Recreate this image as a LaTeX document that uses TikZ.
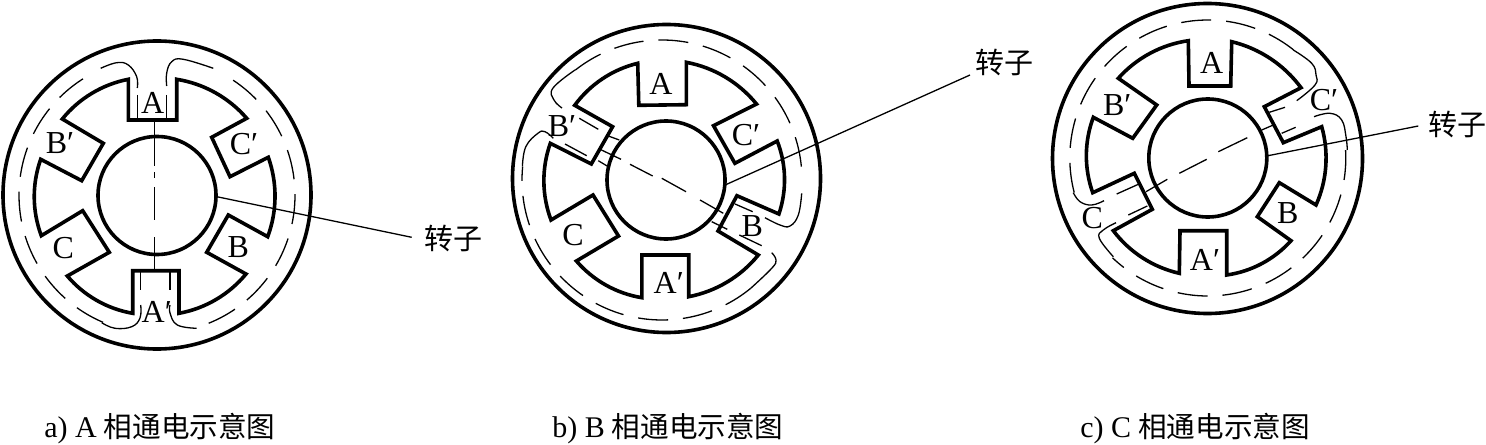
\documentclass[tikz,border=0pt]{standalone}
\usepackage{fontspec}
\setmainfont{Liberation Serif}
\newfontfamily\cjk{Noto Sans CJK SC}
\usetikzlibrary{calc}
\tikzset{
  thick line/.style={line width=1.8pt,line join=miter,miter limit=10},
  thin line/.style={line width=0.65pt},
  ringdash/.style={thin line,dash pattern=on 15pt off 7.5pt},
  leader/.style={line width=0.65pt},
  rotor/.style={circle,draw,line width=1.8pt,minimum size=59pt,inner sep=0pt,outer sep=0pt},
  sarc/.style={bend left=20,looseness=.88},
  pole/.style={font=\fontsize{16}{16}\selectfont,inner sep=0pt},
  caption/.style={font=\fontsize{15}{15}\selectfont,anchor=west,inner sep=0pt},
  rotlabel/.style={font=\cjk\fontsize{14.5}{15}\selectfont,inner sep=0pt}
}
\newcommand{\ringarc}[4]{% centre x, centre y, radius, from:to (clockwise from top)
  \draw[ringdash,domain=#4,samples=80,variable=\t] plot ({#1+#3*sin(\t)},{#2-#3*cos(\t)});}
\newcommand{\cn}[1]{\hspace{3.5pt}{\cjk\fontsize{14.3}{15}\selectfont #1}}
\begin{document}
\begin{tikzpicture}[x=0.5pt,y=-0.5pt]
\useasboundingbox (0,0) rectangle (1486,444);
% ---------------- a
\draw[thick line] (157,195) circle[radius=154];
\node[rotor] (rotA) at (157,195.5) {};
\draw[thick line] (128.3,79.3) -- (128.3,120) -- (176.7,120) -- (176.7,79.3)
  to[sarc] (246.7,118.3) -- (211.7,137.3) -- (230,176.7) -- (268.3,157.3)
  to[sarc] (267.7,236.7) -- (228.3,215) -- (206.7,252.3) -- (246,274)
  to[sarc] (179,313.3) -- (179,270.7) -- (132.7,270.7) -- (132.7,313.3)
  to[sarc] (67.3,276) -- (109.3,252.3) -- (82.7,210.7) -- (41.3,235.7)
  to[sarc] (40.7,159.3) -- (81.7,180.7) -- (103.3,143.3) -- (62.3,119)
  to[sarc] cycle;
\ringarc{157}{195.3}{138}{33.5:158}
\ringarc{157}{195.3}{138}{203:330}
\draw[thin line] plot[smooth,tension=.7] coordinates {(100.7,68.3) (116.7,62.7) (128.3,65) (136.7,76.7) (137.3,88)};
\draw[thin line] (137.3,95) -- (137.3,120);
\draw[thin line] plot[smooth,tension=.7] coordinates {(213.3,68.3) (183.3,59.3) (171.7,61.7) (166.7,73) (166.7,86)};
\draw[thin line] (166.7,95) -- (166.7,120);
\draw[thin line] (140.7,271.7) -- (140.7,290);
\draw[thin line] plot[smooth,tension=.7] coordinates {(140.7,305) (140,318) (131.7,326.7) (115,328.3) (101.7,322.7)};
\draw[thin line] (170,271.7) -- (170,290);
\draw[thin line] plot[smooth,tension=.7] coordinates {(170,305) (170,313) (177.3,325) (196.7,328.3)};
\draw[thin line] (154.3,121) -- (154.3,166);
\draw[thin line] (154.3,172) -- (154.3,178);
\draw[thin line] (154.3,187) -- (154.3,220);
\draw[thin line] (154.3,237) -- (154.3,270);
\node[pole] (aA) at (152.7,102.7) {A};
\node[pole] (aBp) at (60,143.3) {B′};
\node[pole] (aCp) at (244,144) {C′};
\node[pole] (aC) at (63.3,248.3) {C};
\node[pole] (aB) at (238.3,247.3) {B};
\node[pole] (aAp) at (156.7,311.7) {A′};
\node[rotlabel] (txtA) at (453,238) {转子};
\coordinate (endA) at (411.7,237.3);
\draw[leader] (rotA.-1) -- (endA);
\node[caption] (capA) at (44,429) {a) A\cn{相通电示意图}};
% ---------------- b
\draw[thick line] (666.5,178.5) circle[radius=154];
\node[rotor] (rotB) at (666,180) {};
\draw[thick line] (637.7,63.3) -- (638.8,105.3) -- (686.3,104.7) -- (686.3,62.3)
  to[sarc] (756.5,104) -- (713.5,125.7) -- (734.9,163.3) -- (777.2,141)
  to[sarc] (778.9,214) -- (736.9,195.7) -- (718,231) -- (758.3,255)
  to[sarc] (688.7,296.7) -- (688.7,255) -- (641.9,255) -- (641.9,297.7)
  to[sarc] (576.4,261) -- (618.5,236) -- (593,195) -- (551,220)
  to[sarc] (550.3,143.3) -- (591.3,164) -- (612.6,126.7) -- (574.7,105.3)
  to[sarc] cycle;
\ringarc{662}{180}{140}{321.7:445.9}
\ringarc{662}{180}{140}{140.7:275.4}
\draw[thin line] plot[smooth,tension=.7] coordinates {(575,70) (553,88) (554,100) (562,108)};
\draw[thin line] (579.3,118.3) -- (598.3,129.3);
\draw[thin line] (608.3,136) -- (619.3,140);
\draw[thin line] (565,144) -- (586.7,155.7);
\draw[thin line] (598.3,160.7) -- (608.3,166.7);
\draw[thin line] plot[smooth,tension=.7] coordinates {(522.4,166.7) (525.8,146.7) (537.9,133.3) (545,131.7) (553.3,138.3)};
\draw[thin line] (600,149.3) -- (621,159.3);
\draw[thin line] (630,164.3) -- (652.7,176);
\draw[thin line] (661.8,178.3) -- (686,191.7);
\draw[thin line] (700,200) -- (723.3,213.3);
\draw[thin line] (735,204) -- (752.7,211.7);
\draw[thin line] (711.7,221.7) -- (727.3,229.3);
\draw[thin line] (739.3,235) -- (761.7,245.7);
\draw[thin line] plot[smooth,tension=.7] coordinates {(765,217.7) (780,225) (790,226) (798.3,215) (801.7,193.3)};
\draw[thin line] plot[smooth,tension=.7] coordinates {(771.7,252.7) (776,260) (771.7,268.3) (750.7,288.3)};
\node[pole] (bA) at (660.8,84) {A};
\node[pole] (bCp) at (746,135) {C′};
\node[pole] (bBp) at (562,126) {B′};
\node[pole] (bC) at (573,235) {C};
\node[pole] (bB) at (752.4,226) {B};
\node[pole] (bAp) at (668.7,282.7) {A′};
\node[rotlabel] (txtB) at (1004,62) {转子};
\coordinate (endB) at (970,75);
\draw[leader] (rotB.-5) -- (endB);
\node[caption] (capB) at (552,429) {b) B\cn{相通电示意图}};
% ---------------- c
\draw[thick line] (1207.5,158.5) circle[radius=155];
\node[rotor] (rotC) at (1207.8,158) {};
\draw[thick line] (1188.3,40.7) -- (1189,86) -- (1230.7,86) -- (1231.7,41.7)
  to[sarc] (1301,87.7) -- (1264.3,106.7) -- (1283.3,142.7) -- (1321.7,126.7)
  to[sarc] (1316,205) -- (1279.3,182.7) -- (1257.3,216.7) -- (1291,240.7)
  to[sarc] (1226.7,275) -- (1226.7,230.7) -- (1180,230.7) -- (1179.3,273.3)
  to[sarc] (1113.3,230.7) -- (1152.3,209.3) -- (1134.3,173.3) -- (1092.7,192.7)
  to[sarc] (1093.3,117.3) -- (1132.7,138.3) -- (1156.7,105) -- (1118.3,78.3)
  to[sarc] cycle;
\ringarc{1207.8}{158}{138}{255.5:398.4}
\ringarc{1207.8}{158}{138}{86.7:223.7}
\draw[thin line] plot[smooth,tension=.7] coordinates {(1293.3,50) (1311.7,63.3) (1316,75) (1315,85) (1296.7,100.7)};
\draw[thin line] (1269.3,112.3) -- (1285,107.3);
\draw[thin line] (1281.7,133.3) -- (1295.7,127.3);
\draw[thin line] plot[smooth,tension=.7] coordinates {(1314,116.7) (1330,113.3) (1341.7,120) (1346,136.7) (1347.3,150)};
\draw[thin line] (1146,191.7) -- (1167.3,179.3);
\draw[thin line] (1179.3,173.3) -- (1206.7,159.3);
\draw[thin line] (1218.3,151.7) -- (1247.3,137.7);
\draw[thin line] (1261.7,130) -- (1273.3,125);
\draw[thin line] (1116.7,194) -- (1138.3,184.3);
\draw[thin line] (1128.3,215) -- (1147.3,206);
\draw[thin line] plot[smooth,tension=.7] coordinates {(1073.3,192.7) (1080,201.7) (1091.7,205) (1104,200.7)};
\draw[thin line] plot[smooth,tension=.7] coordinates {(1116,222.7) (1103.3,230) (1099.3,238.3) (1113.3,256.7)};
\node[pole] (cA) at (1211.7,63.3) {A};
\node[pole] (cBp) at (1117.3,105) {B′};
\node[pole] (cCp) at (1324,100) {C′};
\node[pole] (cC) at (1092.3,218.3) {C};
\node[pole] (cB) at (1287.7,213.3) {B};
\node[pole] (cAp) at (1205,260) {A′};
\node[rotlabel] (txtC) at (1457,124) {转子};
\coordinate (endC) at (1418.3,126);
\draw[leader] (rotC.2) -- (endC);
\node[caption] (capC) at (1080,429) {c) C\cn{相通电示意图}};
\end{tikzpicture}
\end{document}
